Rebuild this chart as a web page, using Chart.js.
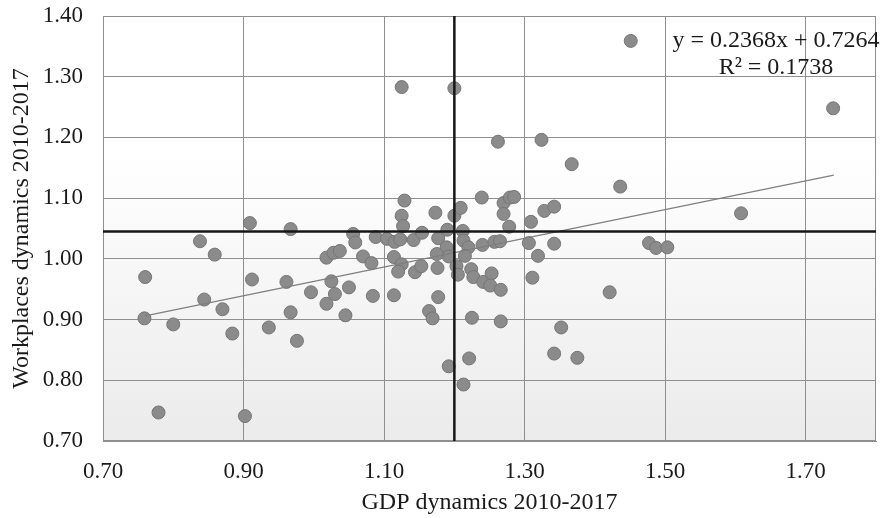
<!DOCTYPE html>
<html><head><meta charset="utf-8">
<script src="https://cdn.jsdelivr.net/npm/chart.js@4.4.1/dist/chart.umd.min.js"></script>
<style>html,body{margin:0;padding:0;background:#fff;}#wrap{width:885px;height:518px;}</style>
</head><body><div id="wrap"><canvas id="c" width="885" height="518"></canvas></div>
<script>
const gdp = [
  0.909,0.967,1.056,1.059,0.838,0.859,1.018,1.028,1.037,1.070,
  0.760,0.912,0.961,0.996,1.025,1.030,1.018,1.050,1.045,0.844,
  0.870,0.759,0.800,0.884,0.936,0.967,0.976,0.779,0.902,
  1.129,1.125,1.127,1.173,1.200,1.088,1.104,1.115,1.123,1.142,
  1.154,1.177,1.190,1.189,1.175,1.192,1.082,1.114,1.125,1.120,
  1.144,1.153,1.176,1.084,1.114,1.177,1.164,1.169,1.192,
  1.239,1.270,1.279,1.285,1.270,1.278,1.209,1.212,1.309,1.328,
  1.342,1.213,1.220,1.240,1.257,1.265,1.306,1.342,1.215,1.319,
  1.203,1.205,1.224,1.227,1.241,1.253,1.251,1.266,1.311,
  1.225,1.266,1.352,1.342,1.221,1.213,
  1.125,1.200,1.262,1.324,1.367,
  1.451,1.739,1.436,1.608,1.477,1.487,1.503,1.421,1.375
];
const workplaces = [
  1.059,1.049,1.041,1.027,1.029,1.007,1.002,1.010,1.013,1.004,
  0.970,0.966,0.962,0.945,0.963,0.942,0.926,0.953,0.907,0.933,
  0.917,0.902,0.892,0.877,0.887,0.912,0.865,0.747,0.741,
  1.096,1.071,1.054,1.076,1.071,1.036,1.033,1.028,1.032,1.031,
  1.043,1.034,1.048,1.019,1.008,1.004,0.993,1.003,0.991,0.979,
  0.978,0.988,0.985,0.939,0.940,0.937,0.914,0.902,0.823,
  1.101,1.092,1.101,1.102,1.074,1.053,1.084,1.046,1.061,1.079,
  1.086,1.030,1.019,1.023,1.028,1.029,1.026,1.025,1.005,1.005,
  0.988,0.974,0.983,0.970,0.962,0.976,0.956,0.949,0.969,
  0.903,0.897,0.887,0.844,0.836,0.793,
  1.283,1.281,1.193,1.196,1.156,
  1.359,1.248,1.119,1.075,1.026,1.018,1.019,0.945,0.837
];
const xTicks = [0.70, 0.90, 1.10, 1.30, 1.50, 1.70];
const yTicks = [0.70, 0.80, 0.90, 1.00, 1.10, 1.20, 1.30, 1.40];
const xRange = [0.70, 1.80];
const yRange = [0.70, 1.40];
const trendX = [0.76, 1.74];
const trendY = [0.906, 1.138];
const gdpRef = 1.20;
const workRef = 1.045;
const xTitle = 'GDP dynamics 2010-2017';
const yTitle = 'Workplaces dynamics 2010-2017';
const eqText = ['y = 0.2368x + 0.7264', 'R² = 0.1738'];

const FONT = 'Liberation Serif';
const TXT = '#1a1a1a';
const GRID = '#8f8f8f';

const pts = gdp.map((x, i) => ({x: x, y: workplaces[i]}));

const deco = {
  id: 'deco',
  beforeDraw(chart) {
    const {ctx, chartArea: a} = chart;
    const g = ctx.createLinearGradient(0, a.top, 0, a.bottom);
    g.addColorStop(0, '#ffffff');
    g.addColorStop(0.33, '#ffffff');
    g.addColorStop(1, '#ebebeb');
    ctx.save();
    ctx.fillStyle = g;
    ctx.fillRect(a.left, a.top, a.right - a.left, a.bottom - a.top);
    ctx.restore();
  },
  beforeDatasetsDraw(chart) {
    const {ctx, chartArea: a} = chart;
    ctx.save();
    ctx.strokeStyle = GRID;
    ctx.lineWidth = 1;
    ctx.strokeRect(Math.round(a.left) + 0.5, Math.round(a.top) + 0.5, Math.round(a.right - a.left) - 1, Math.round(a.bottom - a.top) - 1);
    ctx.restore();
  },
  afterDraw(chart) {
    const {ctx, chartArea: a} = chart;
    ctx.save();
    ctx.fillStyle = TXT;
    ctx.font = '24px "' + FONT + '"';
    ctx.textAlign = 'center';
    ctx.textBaseline = 'alphabetic';
    const cx = a.right - 100;
    ctx.fillText(eqText[0], cx, a.top + 31);
    ctx.fillText(eqText[1], cx, a.top + 58);
    ctx.restore();
  }
};

new Chart(document.getElementById('c'), {
  type: 'scatter',
  data: {
    datasets: [
      {
        data: pts,
        backgroundColor: '#8b8b8b',
        borderColor: '#767676',
        borderWidth: 1,
        pointRadius: 6.5,
        order: 3
      },
      {
        data: trendX.map((x, i) => ({x: x, y: trendY[i]})),
        showLine: true,
        borderColor: '#7f7f7f',
        borderWidth: 1.2,
        pointRadius: 0,
        order: 2
      },
      {
        data: [{x: gdpRef, y: yRange[0]}, {x: gdpRef, y: yRange[1]}],
        showLine: true,
        borderColor: '#161616',
        borderWidth: 2.5,
        pointRadius: 0,
        order: 1
      },
      {
        data: [{x: xRange[0], y: workRef}, {x: xRange[1], y: workRef}],
        showLine: true,
        borderColor: '#161616',
        borderWidth: 2.5,
        pointRadius: 0,
        order: 1
      }
    ]
  },
  options: {
    responsive: false,
    animation: false,
    devicePixelRatio: 1,
    layout: {autoPadding: false, padding: {top: 16, right: 9, left: 0, bottom: 0}},
    plugins: {legend: {display: false}, tooltip: {enabled: false}},
    scales: {
      x: {
        type: 'linear', min: xRange[0], max: xRange[1],
        afterBuildTicks: s => { s.ticks = xTicks.map(v => ({value: v})); },
        afterFit: s => { s.height = 77; s.paddingLeft = 0; s.paddingRight = 0; s.paddingTop = 0; s.paddingBottom = 0; },
        grid: {color: GRID, lineWidth: 1, drawTicks: false},
        border: {color: GRID},
        ticks: {padding: 17, color: TXT, font: {family: FONT, size: 23}, maxRotation: 0, autoSkip: false,
          callback: v => Number(v).toFixed(2)},
        title: {display: true, text: xTitle, color: TXT, font: {family: FONT, size: 24}, padding: {top: 0, bottom: 1}}
      },
      y: {
        type: 'linear', min: yRange[0], max: yRange[1],
        afterBuildTicks: s => { s.ticks = yTicks.map(v => ({value: v})); },
        afterFit: s => { s.width = 103; s.paddingLeft = 0; s.paddingRight = 0; s.paddingTop = 0; s.paddingBottom = 0; },
        grid: {color: GRID, lineWidth: 1, drawTicks: false},
        border: {color: GRID},
        ticks: {padding: 20, color: TXT, font: {family: FONT, size: 23}, autoSkip: false,
          callback: v => Number(v).toFixed(2)},
        title: {display: true, text: yTitle, color: TXT, font: {family: FONT, size: 24}, padding: {top: 7, bottom: 4}}
      }
    }
  },
  plugins: [deco]
});
</script>
</body></html>
